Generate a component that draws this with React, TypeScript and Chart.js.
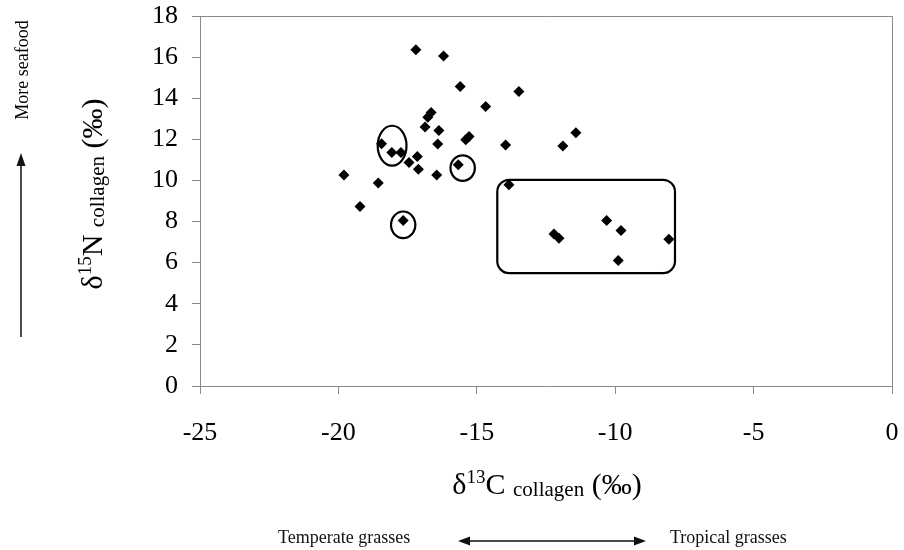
import React, { useEffect, useRef } from "react";
import { Chart, registerables } from "chart.js";

Chart.register(...registerables);

// δ13C collagen (‰) values
const d13C: number[] = [
  -17.2, -16.2, -15.6, -13.48, -14.68, -16.65, -16.77, -16.87, -16.37, -15.28,
  -15.4, -13.96, -16.41, -11.42, -11.89, -18.44, -18.07, -17.74, -17.45, -17.15,
  -17.11, -16.45, -19.8, -18.56, -19.22, -17.66, -15.67, -13.84, -12.21, -12.03,
  -10.31, -9.79, -8.06, -9.89,
];
// δ15N collagen (‰) values
const d15N: number[] = [
  16.36, 16.05, 14.57, 14.33, 13.6, 13.3, 13.08, 12.6, 12.43, 12.14,
  11.98, 11.72, 11.77, 12.32, 11.68, 11.78, 11.36, 11.36, 10.87, 11.16,
  10.55, 10.27, 10.27, 9.87, 8.73, 8.05, 10.76, 9.79, 7.4, 7.19,
  8.05, 7.56, 7.14, 6.1,
];

const xMin = -25;
const xMax = 0;
const xStep = 5;
const yMin = 0;
const yMax = 18;
const yStep = 2;

// annotation ellipses in data units
const ellipseCx = [-18.06, -15.51, -17.66];
const ellipseCy = [11.69, 10.6, 7.84];
const ellipseRx = [0.52, 0.44, 0.44];
const ellipseRy = [0.97, 0.62, 0.65];
// annotation rounded box in data units
const boxX = [-14.26, -7.84];
const boxY = [5.49, 10.03];

const SERIF = "'Liberation Serif', 'Times New Roman', serif";

type Part = { t: string; size: number; dy: number };

function drawParts(ctx: CanvasRenderingContext2D, parts: Part[], cx: number, baseY: number) {
  let total = 0;
  const widths: number[] = [];
  for (const p of parts) {
    ctx.font = `${p.size}px ${SERIF}`;
    const w = ctx.measureText(p.t).width;
    widths.push(w);
    total += w;
  }
  let x = cx - total / 2;
  ctx.textAlign = "left";
  ctx.textBaseline = "alphabetic";
  parts.forEach((p, i) => {
    ctx.font = `${p.size}px ${SERIF}`;
    ctx.fillText(p.t, x, baseY + p.dy);
    x += widths[i];
  });
}

const decorPlugin = {
  id: "decor",
  afterDatasetsDraw(chart: any) {
    const ctx: CanvasRenderingContext2D = chart.ctx;
    const xs = chart.scales.x;
    const ys = chart.scales.y;
    const area = chart.chartArea;
    ctx.save();
    // frame top/right
    ctx.strokeStyle = "#8a8a8a";
    ctx.lineWidth = 1;
    ctx.beginPath();
    ctx.moveTo(area.left, area.top + 0.5);
    ctx.lineTo(area.right + 0.5, area.top + 0.5);
    ctx.lineTo(area.right + 0.5, area.bottom);
    ctx.stroke();

    // ellipses
    ctx.strokeStyle = "#000";
    ctx.lineWidth = 2.2;
    for (let i = 0; i < ellipseCx.length; i++) {
      const cx = xs.getPixelForValue(ellipseCx[i]);
      const cy = ys.getPixelForValue(ellipseCy[i]);
      const rx = Math.abs(xs.getPixelForValue(ellipseCx[i] + ellipseRx[i]) - cx);
      const ry = Math.abs(ys.getPixelForValue(ellipseCy[i] + ellipseRy[i]) - cy);
      ctx.beginPath();
      ctx.ellipse(cx, cy, rx, ry, 0, 0, Math.PI * 2);
      ctx.stroke();
    }
    // rounded box
    const bx0 = xs.getPixelForValue(boxX[0]);
    const bx1 = xs.getPixelForValue(boxX[1]);
    const by0 = ys.getPixelForValue(boxY[1]);
    const by1 = ys.getPixelForValue(boxY[0]);
    ctx.beginPath();
    (ctx as any).roundRect(bx0, by0, bx1 - bx0, by1 - by0, 12);
    ctx.stroke();

    // axis titles
    ctx.fillStyle = "#000";
    const xTitle: Part[] = [
      { t: "δ", size: 30, dy: 0 },
      { t: "13", size: 19, dy: -11 },
      { t: "C", size: 30, dy: 0 },
      { t: " ", size: 30, dy: 0 },
      { t: "collagen", size: 21, dy: 2 },
      { t: " (‰)", size: 30, dy: 0 },
    ];
    drawParts(ctx, xTitle, (area.left + area.right) / 2 + 1, 494);

    const yTitle: Part[] = [
      { t: "δ", size: 30, dy: 0 },
      { t: "15", size: 19, dy: -11 },
      { t: "N", size: 30, dy: 0 },
      { t: " ", size: 30, dy: 0 },
      { t: "collagen", size: 21, dy: 2 },
      { t: " (‰)", size: 30, dy: 0 },
    ];
    ctx.save();
    ctx.translate(102, 194);
    ctx.rotate(-Math.PI / 2);
    drawParts(ctx, yTitle, 0, 0);
    ctx.restore();

    // "More seafood" with vertical arrow
    ctx.save();
    ctx.translate(28, 70);
    ctx.rotate(-Math.PI / 2);
    ctx.font = `18px ${SERIF}`;
    ctx.textAlign = "center";
    ctx.textBaseline = "alphabetic";
    ctx.fillText("More seafood", 0, 0);
    ctx.restore();

    ctx.strokeStyle = "#111";
    ctx.fillStyle = "#111";
    ctx.lineWidth = 1.5;
    ctx.beginPath();
    ctx.moveTo(21, 337);
    ctx.lineTo(21, 162);
    ctx.stroke();
    ctx.beginPath();
    ctx.moveTo(21, 153);
    ctx.lineTo(16.5, 166);
    ctx.lineTo(25.5, 166);
    ctx.closePath();
    ctx.fill();

    // bottom annotation
    ctx.font = `18px ${SERIF}`;
    ctx.textAlign = "left";
    ctx.fillText("Temperate grasses", 278, 543);
    ctx.fillText("Tropical grasses", 670, 543);
    const ay = 541;
    const ax0 = 458;
    const ax1 = 646;
    ctx.beginPath();
    ctx.moveTo(ax0 + 8, ay);
    ctx.lineTo(ax1 - 8, ay);
    ctx.stroke();
    ctx.beginPath();
    ctx.moveTo(ax0, ay);
    ctx.lineTo(ax0 + 12, ay - 4.5);
    ctx.lineTo(ax0 + 12, ay + 4.5);
    ctx.closePath();
    ctx.fill();
    ctx.beginPath();
    ctx.moveTo(ax1, ay);
    ctx.lineTo(ax1 - 12, ay - 4.5);
    ctx.lineTo(ax1 - 12, ay + 4.5);
    ctx.closePath();
    ctx.fill();

    ctx.restore();
  },
};

export default function App() {
  const ref = useRef<HTMLCanvasElement | null>(null);

  useEffect(() => {
    document.body.style.margin = "0";
    const canvas = ref.current;
    if (!canvas) return;
    const points = d13C.map((x, i) => ({ x, y: d15N[i] }));
    const axisColor = "#8a8a8a";
    const chart = new Chart(canvas, {
      type: "scatter",
      data: {
        datasets: [
          {
            data: points,
            pointStyle: "rectRot",
            pointRadius: 5.5,
            pointBorderWidth: 0,
            backgroundColor: "#000",
            borderColor: "#000",
          },
        ],
      },
      options: {
        animation: false,
        responsive: false,
        devicePixelRatio: 1,
        layout: { padding: 0 },
        plugins: {
          legend: { display: false },
          tooltip: { enabled: false },
        },
        scales: {
          x: {
            type: "linear",
            min: xMin,
            max: xMax,
            ticks: {
              stepSize: xStep,
              color: "#000",
              font: { family: SERIF, size: 26 },
              padding: 24,
              maxRotation: 0,
            },
            grid: {
              display: true,
              drawOnChartArea: false,
              drawTicks: true,
              tickLength: 8,
              color: axisColor,
            },
            border: { display: true, color: axisColor, width: 1 },
            afterFit(scale: any) {
              scale.height = 164;
              scale.paddingLeft = 0;
              scale.paddingRight = 12;
            },
          },
          y: {
            type: "linear",
            min: yMin,
            max: yMax,
            ticks: {
              stepSize: yStep,
              color: "#000",
              font: { family: SERIF, size: 26 },
              padding: 14,
            },
            grid: {
              display: true,
              drawOnChartArea: false,
              drawTicks: true,
              tickLength: 8,
              color: axisColor,
            },
            border: { display: true, color: axisColor, width: 1 },
            afterFit(scale: any) {
              scale.width = 200;
              scale.paddingTop = 16;
              scale.paddingBottom = 0;
            },
          },
        },
      },
      plugins: [decorPlugin],
    });
    return () => chart.destroy();
  }, []);

  return (
    <div style={{ width: 904, height: 550, background: "#fff" }}>
      <canvas ref={ref} width={904} height={550} style={{ display: "block" }} />
    </div>
  );
}
